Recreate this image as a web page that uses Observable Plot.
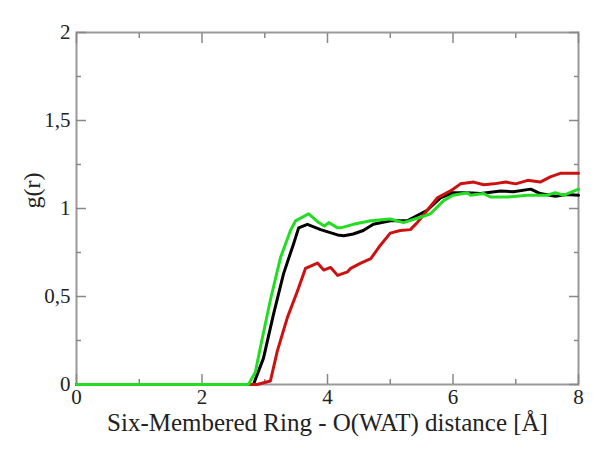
<!DOCTYPE html>
<html><head><meta charset="utf-8">
<script src="https://cdn.jsdelivr.net/npm/d3@7"></script>
<script src="https://cdn.jsdelivr.net/npm/@observablehq/plot@0.6"></script>
<style>body{margin:0;background:#fff}</style>
</head><body><div id="chart"></div>
<script>
const xLabel = "Six-Membered Ring - O(WAT) distance [Å]";
const yLabel = "g(r)";
const xMajor = [0, 2, 4, 6, 8];
const xMinor = [1, 3, 5, 7];
const yMajor = [0, 0.5, 1, 1.5, 2];
const yMinor = [0.25, 0.75, 1.25, 1.75];

const rBlack = [0, 2.82, 2.98, 3.14, 3.30, 3.46, 3.54, 3.68, 3.89, 4.16, 4.26, 4.41, 4.57, 4.73, 5.0, 5.27, 5.43, 5.59, 5.8, 6.0, 6.23, 6.44, 6.76, 6.96, 7.24, 7.39, 7.63, 7.82, 8.0];
const gBlack = [0, 0, 0.15, 0.40, 0.63, 0.80, 0.89, 0.91, 0.88, 0.85, 0.845, 0.855, 0.875, 0.91, 0.93, 0.93, 0.96, 0.99, 1.06, 1.09, 1.09, 1.085, 1.10, 1.095, 1.11, 1.085, 1.07, 1.08, 1.075];

const rGreen = [0, 2.74, 2.85, 2.93, 3.09, 3.25, 3.41, 3.49, 3.70, 3.86, 3.95, 4.02, 4.16, 4.21, 4.41, 4.69, 5.0, 5.21, 5.48, 5.64, 5.85, 6.0, 6.23, 6.28, 6.49, 6.6, 6.87, 7.19, 7.5, 7.63, 7.76, 8.0];
const gGreen = [0, 0, 0.07, 0.21, 0.48, 0.72, 0.875, 0.93, 0.97, 0.92, 0.90, 0.92, 0.89, 0.89, 0.91, 0.93, 0.94, 0.92, 0.95, 0.97, 1.045, 1.075, 1.09, 1.075, 1.085, 1.065, 1.065, 1.075, 1.075, 1.09, 1.075, 1.11];

const rRed = [0, 2.88, 3.09, 3.2, 3.36, 3.52, 3.65, 3.84, 3.94, 4.05, 4.16, 4.32, 4.37, 4.53, 4.69, 4.84, 5.0, 5.16, 5.32, 5.43, 5.59, 5.75, 5.96, 6.12, 6.33, 6.49, 6.65, 6.84, 7.0, 7.19, 7.39, 7.55, 7.71, 8.0];
const gRed = [0, 0, 0.02, 0.19, 0.38, 0.53, 0.66, 0.69, 0.65, 0.665, 0.62, 0.64, 0.66, 0.69, 0.715, 0.79, 0.86, 0.875, 0.88, 0.92, 0.99, 1.06, 1.10, 1.14, 1.15, 1.135, 1.14, 1.15, 1.14, 1.16, 1.15, 1.18, 1.20, 1.20];

const toRows = (rs, gs) => rs.map((r, i) => ({r, g: gs[i]}));
const fmt = d => String(d).replace(".", ",");
const blank = () => "";
const tickColor = "#888";
const serif = "'Liberation Serif', 'DejaVu Serif', serif";

function ticks() {
  const out = [];
  for (const a of ["bottom", "top"]) {
    out.push(Plot.axisX(xMajor, {anchor: a, tickSize: -10, tickFormat: blank, label: null, stroke: tickColor, strokeWidth: 1.5}));
    out.push(Plot.axisX(xMinor, {anchor: a, tickSize: -5, tickFormat: blank, label: null, stroke: tickColor, strokeWidth: 1.5}));
  }
  for (const a of ["left", "right"]) {
    out.push(Plot.axisY(yMajor, {anchor: a, tickSize: -10, tickFormat: blank, label: null, stroke: tickColor, strokeWidth: 1.5}));
    out.push(Plot.axisY(yMinor, {anchor: a, tickSize: -5, tickFormat: blank, label: null, stroke: tickColor, strokeWidth: 1.5}));
  }
  return out;
}

const chart = Plot.plot({
  width: 600, height: 456,
  marginLeft: 76, marginRight: 22, marginTop: 32, marginBottom: 72,
  style: {fontFamily: serif, fontSize: "20px", color: "#222", background: "#fff"},
  x: {domain: [0, 8]},
  y: {domain: [0, 2]},
  marks: [
    Plot.frame({stroke: "#999", strokeWidth: 2}),
    ...ticks(),
    Plot.line(toRows(rBlack, gBlack), {x: "r", y: "g", stroke: "#000", strokeWidth: 3}),
    Plot.line(toRows(rRed, gRed), {x: "r", y: "g", stroke: "#cc1111", strokeWidth: 3}),
    Plot.line(toRows(rGreen, gGreen), {x: "r", y: "g", stroke: "#22dd22", strokeWidth: 3}),
    Plot.axisX(xMajor, {anchor: "bottom", tickSize: 0, tickPadding: 5, label: null, tickFormat: fmt, fontFamily: serif, fontSize: 21}),
    Plot.axisY(yMajor, {anchor: "left", tickSize: 0, tickPadding: 6, label: null, tickFormat: fmt, fontFamily: serif, fontSize: 21}),
    Plot.text([xLabel], {frameAnchor: "bottom", dy: 46, fontSize: 25, fill: "#222", fontFamily: serif}),
    Plot.text([yLabel], {frameAnchor: "left", dx: -44, rotate: -90, fontSize: 24, fill: "#222", fontFamily: serif})
  ]
});
document.getElementById("chart").append(chart);
</script>
</body></html>
